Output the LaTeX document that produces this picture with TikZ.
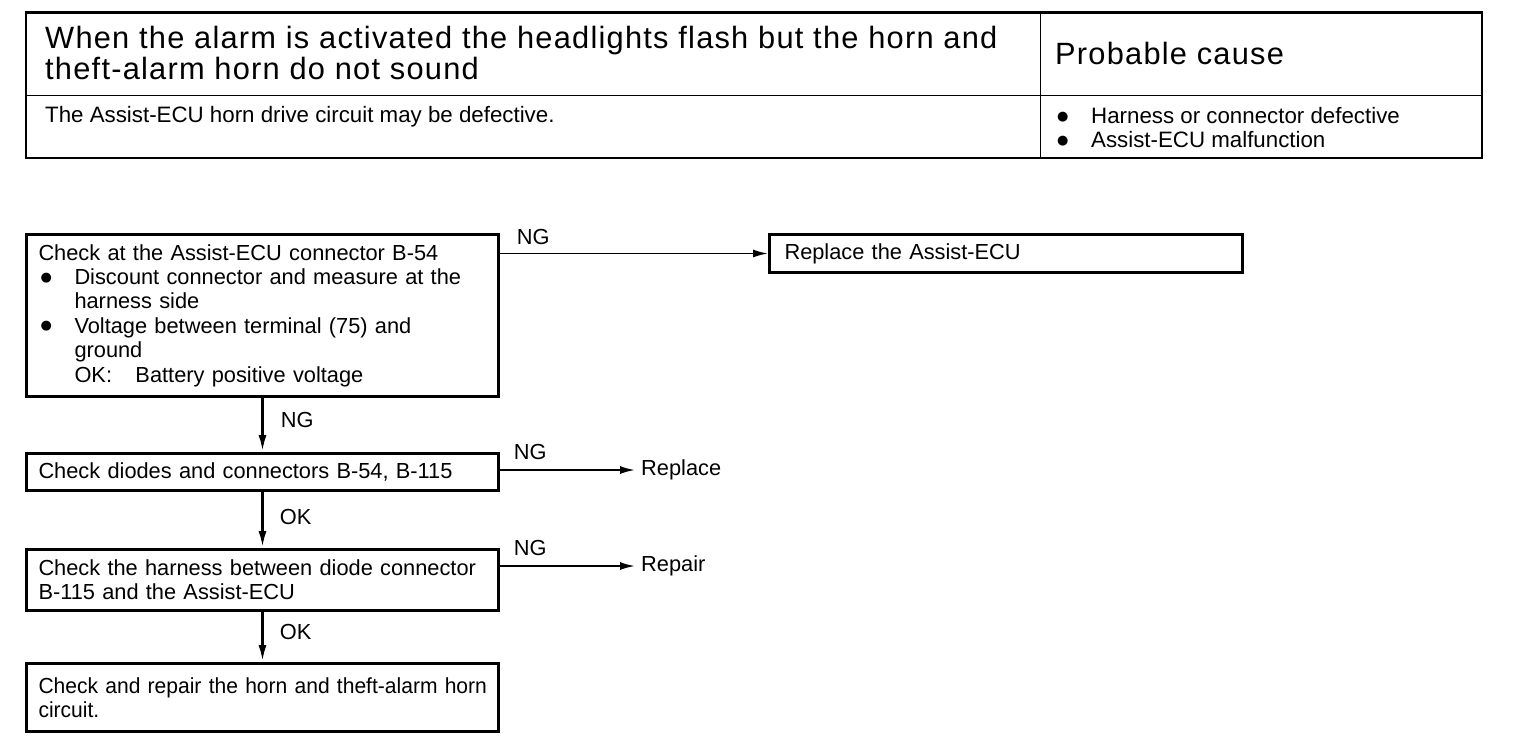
\documentclass[tikz,border=0pt]{standalone}
\usepackage{fontspec}
\usepackage{tikz}
\setmainfont{Liberation Sans}
\newfontfamily\headface[LetterSpace=4]{Liberation Sans}
\newfontfamily\dotface{DejaVu Sans}
\usetikzlibrary{arrows.meta,positioning}
\newcommand{\headtext}{\headface\fontsize{30.8}{31}\selectfont}
\newcommand{\flowtext}{\fontsize{21.8}{24.4}\selectfont}
\newcommand{\tabletext}{\fontsize{22.3}{24}\selectfont}
\newcommand{\blob}{\hspace{2pt}\raisebox{3.5pt}{\dotface\fontsize{13}{13}\selectfont ●}}
\newcommand{\dotitem}{\makebox[36pt][l]{\blob}}
\newcommand{\hang}{\hspace*{36pt}}

\begin{document}
\begin{tikzpicture}[x=1pt, y=-1pt,
  flowbox/.style={draw, line width=3pt, anchor=north west, minimum width=472pt,
    text width=448pt, inner xsep=12pt, inner ysep=0pt, align=left, font=\flowtext},
  verdict/.style={inner sep=0pt, font=\flowtext},
  outcome/.style={anchor=west, inner xsep=6pt, inner ysep=0pt, font=\flowtext},
  downarrow/.style={-{Latex[length=17pt,width=8pt]}, line width=2.8pt},
  sidearrow/.style={-{Latex[length=15pt,width=8pt]}, line width=1.8pt}]
\useasboundingbox (0,0) rectangle (1520,752);
\fill[white] (0,0) rectangle (1520,752);

\draw[line width=1pt] (26,95) -- (1482,95) (1040,13) -- (1040,158);
\draw[line width=2pt] (26,13) -- (26,158) -- (1482,158) -- (1482,13);
\draw[line width=3pt] (25,13) -- (1483,13);
\node[anchor=west, inner sep=0pt, align=left, font=\headtext] (symptom) at (45,53)
  {When the alarm is activated the headlights flash but the horn and\\theft-alarm horn do not sound};
\node[anchor=west, inner sep=0pt, font=\headtext] (causehead) at (1055,53) {Probable cause};
\node[anchor=base west, inner sep=0pt, font=\tabletext] (detail) at (45,122)
  {The Assist-ECU horn drive circuit may be defective.};
\node[anchor=west, inner sep=0pt, align=left, font=\tabletext] (causes) at (1055,128)
  {\makebox[36pt][l]{\blob}Harness or connector defective\\
   \makebox[36pt][l]{\blob}Assist-ECU malfunction};

\node[flowbox, minimum height=162pt] (ecucheck) at (25,233)
  {Check at the Assist-ECU connector B-54\\
   \dotitem Discount connector and measure at the\\
   \hang harness side\\
   \dotitem Voltage between terminal (75) and\\
   \hang ground\\
   \hang\makebox[61pt][l]{OK:}Battery positive voltage};
\node[flowbox, minimum height=38pt, text width=443pt, inner xsep=15pt] (ecuswap) at (768,233)
  {Replace the Assist-ECU};
\node[flowbox, minimum height=37pt] (diodecheck) at (25,452)
  {Check diodes and connectors B-54, B-115};
\node[flowbox, minimum height=61pt] (harnesscheck) at (25,548)
  {Check the harness between diode connector\\B-115 and the Assist-ECU};
\node[flowbox, minimum height=68pt] (horncheck) at (25,662)
  {\addfontfeature{FakeStretch=0.965}\mbox{Check and repair the horn and theft-alarm horn}\\circuit.};
\node[outcome] (replace) at (635,470) {Replace};
\node[outcome] (repair) at (635,566) {Repair};

\draw[sidearrow] (ecucheck.east |- ecuswap.west) --
  node[verdict, pos=0, anchor=south west, xshift=16pt, yshift=8pt] {NG} (ecuswap.west);
\draw[sidearrow] (diodecheck.east |- replace.west) --
  node[verdict, pos=0, anchor=south west, xshift=13pt, yshift=9pt] {NG} (replace.west);
\draw[sidearrow] (harnesscheck.east |- repair.west) --
  node[verdict, pos=0, anchor=south west, xshift=13pt, yshift=9pt] {NG} (repair.west);
\draw[downarrow] (ecucheck.south) --
  node[verdict, pos=0.4, anchor=west, xshift=17pt] {NG} (diodecheck.north);
\draw[downarrow] (diodecheck.south) --
  node[verdict, pos=0.45, anchor=west, xshift=16pt] {OK} (harnesscheck.north);
\draw[downarrow] (harnesscheck.south) --
  node[verdict, pos=0.4, anchor=west, xshift=16pt] {OK} (horncheck.north);
\end{tikzpicture}
\end{document}
